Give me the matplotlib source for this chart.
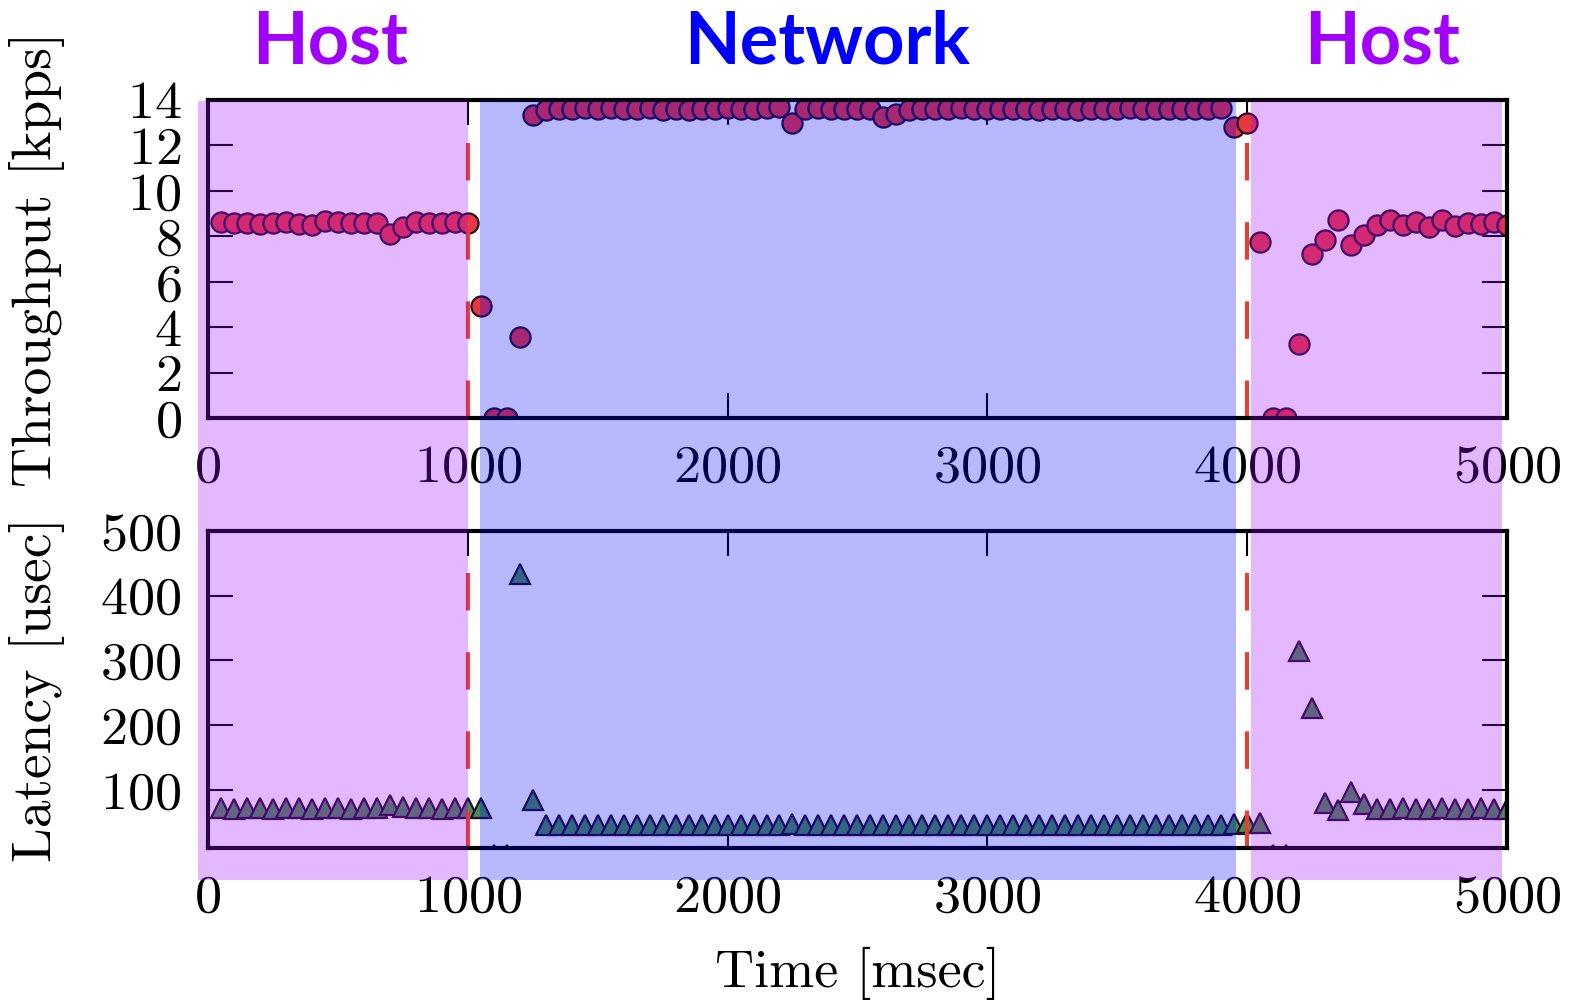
import numpy as np
import matplotlib
matplotlib.use("Agg")
import matplotlib.pyplot as plt
from matplotlib.patches import Rectangle
from matplotlib.transforms import blended_transform_factory

plt.rcParams['font.family'] = ['cmr10', 'DejaVu Serif']
plt.rcParams['axes.formatter.use_mathtext'] = True
plt.rcParams['lines.scale_dashes'] = False

# muestras cada 50 ms
tiempo = np.arange(50, 5001, 50)

thr_host1 = [8.65, 8.6, 8.57, 8.54, 8.6, 8.65, 8.54, 8.5, 8.69, 8.65,
             8.6, 8.6, 8.57, 8.1, 8.43, 8.65, 8.6, 8.6, 8.65, 8.6]
thr_cambio1 = [4.95, 0.0, 0.0, 3.57, 13.35]
thr_red = [13.55, 13.6, 13.6, 13.65, 13.6, 13.65, 13.6, 13.6, 13.65, 13.55,
           13.6, 13.55, 13.6, 13.6, 13.65, 13.6, 13.6, 13.65, 13.7, 13.0,
           13.6, 13.65, 13.6, 13.6, 13.6, 13.6, 13.25, 13.4, 13.55, 13.6,
           13.6, 13.6, 13.65, 13.6, 13.6, 13.6, 13.6, 13.6, 13.55, 13.6,
           13.6, 13.55, 13.6, 13.6, 13.6, 13.65, 13.6, 13.6, 13.6, 13.6,
           13.6, 13.6, 13.65, 12.8, 13.0]
thr_host2 = [7.75, 0.0, 0.0, 3.26, 7.2, 7.84, 8.7, 7.6, 8.05, 8.5,
             8.7, 8.5, 8.65, 8.4, 8.7, 8.45, 8.6, 8.55, 8.65, 8.5]
throughput = np.array(thr_host1 + thr_cambio1 + thr_red + thr_host2)

lat_host1 = [72, 71, 72, 72, 71, 72, 72, 71, 72, 72,
             71, 72, 72, 76, 74, 72, 72, 71, 72, 72]
lat_cambio1 = [72, 0, 0, 434, 85]
lat_red = [45, 45, 46, 45, 45, 45, 46, 45, 45, 45,
           45, 46, 45, 45, 45, 45, 45, 46, 45, 47,
           45, 45, 45, 46, 45, 45, 45, 45, 46, 45,
           45, 45, 45, 45, 46, 45, 45, 45, 45, 45,
           46, 45, 45, 45, 45, 45, 46, 45, 45, 45,
           45, 46, 45, 47, 48]
lat_host2 = [48, 0, 0, 314, 226, 79, 69, 97, 78, 71,
             71, 72, 71, 71, 72, 71, 71, 72, 71, 71]
latencia = np.array(lat_host1 + lat_cambio1 + lat_red + lat_host2)

cambios = [1000, 4000]
regiones = [(-38, 1000, '#A000FF'), (1046, 3958, '#0000FF'), (4016, 4981, '#A000FF')]
titulos = [('Host', 0.2097, '#A100FF'), ('Network', 0.5254, '#0000FF'), ('Host', 0.878, '#A100FF')]

fig = plt.figure(figsize=(15.74, 10.06), dpi=100)
ax1 = fig.add_axes([0.1321, 0.5845, 0.8253, 0.3161])
ax2 = fig.add_axes([0.1321, 0.157, 0.8253, 0.3152])

ax1.plot(tiempo, throughput, 'o', ms=14.5, mfc='#E8383D', mec='#201030', mew=1.6)
ax2.plot(tiempo, latencia, '^', ms=15, mfc='#4A8C52', mec='#201030', mew=1.6)

for ax in (ax1, ax2):
    for c in cambios:
        ax.axvline(c, color='#E8402E', lw=3, dashes=(27, 30))
    ax.set_xlim(0, 5000)
    ax.set_xticks([0, 1000, 2000, 3000, 4000, 5000])
    ax.tick_params(direction='in', length=18, width=1.5, top=True, right=True,
                   labelsize=39, pad=19)
    for s in ax.spines.values():
        s.set_linewidth(3)

ax1.set_ylim(0, 14)
ax1.set_yticks(range(0, 15, 2))
ax2.set_ylim(10, 500)
ax2.set_yticks([100, 200, 300, 400, 500])

ax1.set_ylabel('Throughput [kpps]', fontsize=40)
ax2.set_ylabel('Latency [usec]', fontsize=40)
ax1.yaxis.set_label_coords(-0.11, 0.5)
ax2.yaxis.set_label_coords(-0.11, 0.5)
ax2.set_xlabel('Time [msec]', fontsize=39, labelpad=18)

# sombreado encima de todo
trans = blended_transform_factory(ax1.transData, fig.transFigure)
for x0, x1, col in regiones:
    r = Rectangle((x0, 0.1252), x1 - x0, 0.8996 - 0.1252, transform=trans,
                  facecolor=col, alpha=0.28, edgecolor='none', zorder=10)
    fig.add_artist(r)

for txt, xf, col in titulos:
    fig.text(xf, 0.9364, txt, ha='center', va='baseline', color=col,
             fontsize=52, fontweight='bold', family='Lato')

fig.savefig('out.png', dpi=100)
